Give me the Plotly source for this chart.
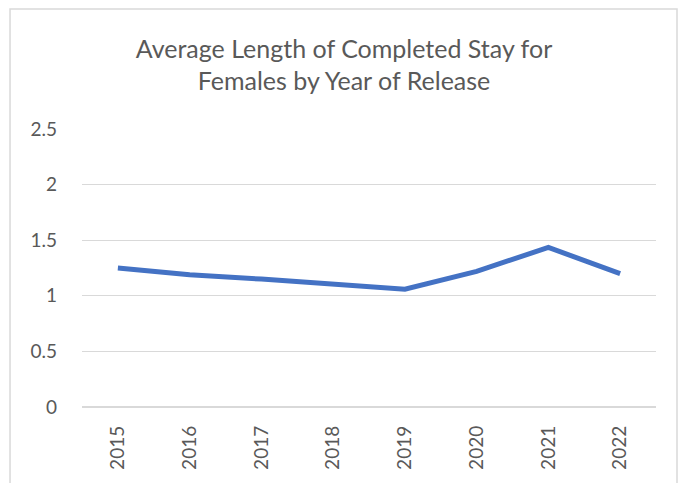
import plotly.graph_objects as go

# data
years = ["2015", "2016", "2017", "2018", "2019", "2020", "2021", "2022"]
avg_stay = [1.25, 1.19, 1.15, 1.11, 1.06, 1.22, 1.435, 1.20]
y_ticks = [0, 0.5, 1, 1.5, 2, 2.5]

fig = go.Figure()
fig.add_trace(
    go.Scatter(
        x=years,
        y=avg_stay,
        mode="lines",
        line=dict(color="#4472C4", width=5),
        showlegend=False,
    )
)

fig.update_layout(
    width=688,
    height=483,
    paper_bgcolor="white",
    plot_bgcolor="white",
    margin=dict(l=82, r=32, t=129, b=76, autoexpand=False),
    title=dict(
        text="Average Length of Completed Stay for<br>Females by Year of Release",
        x=0.5,
        xanchor="center",
        y=0.88,
        yanchor="top",
        font=dict(family="Lato", size=25, color="#595959"),
    ),
    xaxis=dict(
        type="category",
        range=[-0.5, 7.5],
        tickangle=-90,
        showgrid=False,
        showline=False,
        ticks="",
        ticklabelstandoff=14,
        tickfont=dict(family="Lato", size=19, color="#595959"),
    ),
    yaxis=dict(
        range=[0, 2.5],
        tickvals=y_ticks,
        ticktext=[f"{v:g}" for v in y_ticks],
        showgrid=True,
        gridcolor="#d9d9d9",
        gridwidth=1,
        zeroline=True,
        zerolinecolor="#d9d9d9",
        showline=False,
        ticks="",
        ticklabelstandoff=24,
        tickfont=dict(family="Lato", size=19, color="#595959"),
    ),
    # chart outline, like the Excel chart frame
    shapes=[
        dict(
            type="rect",
            xref="paper",
            yref="paper",
            x0=-0.1254,
            x1=1.0366,
            y0=-0.5,
            y1=1.432,
            line=dict(color="#d9d9d9", width=1.5),
        )
    ],
)

fig.write_html(
    "out.html",
    config={"displayModeBar": False},
    post_script="document.body.style.margin='0';",
)
